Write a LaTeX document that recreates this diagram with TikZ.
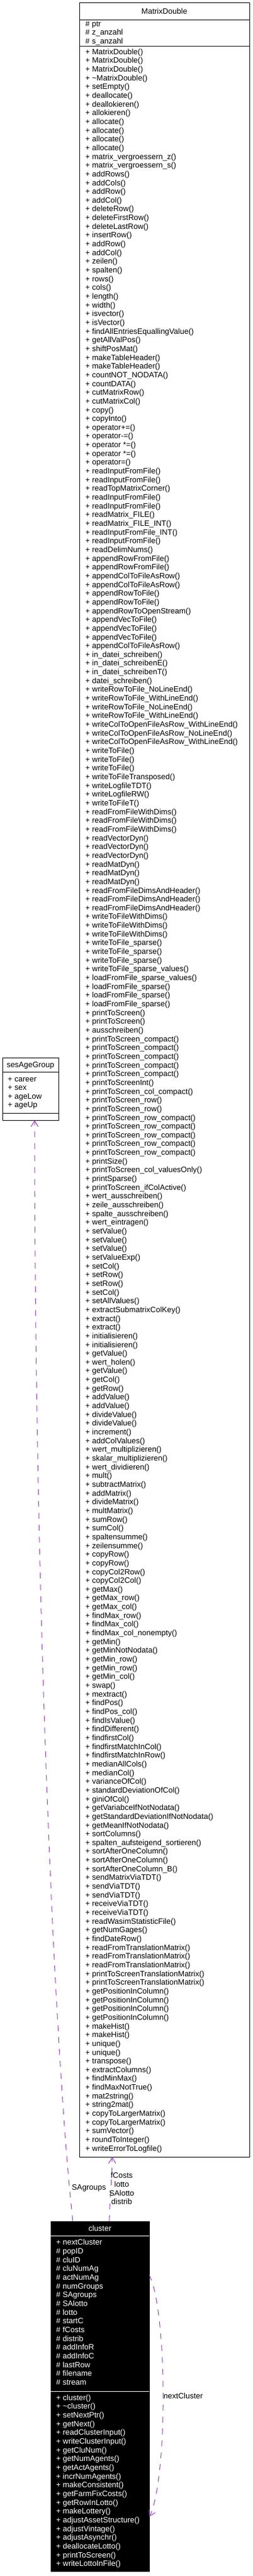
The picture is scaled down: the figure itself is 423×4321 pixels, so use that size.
\documentclass[tikz,border=0pt]{standalone}
\usepackage{fontspec}
\setmainfont{Liberation Sans}
\usetikzlibrary{arrows.meta}
\definecolor{usage-purple}{HTML}{9A32CD}
\newcommand{\memberfont}{\fontsize{13}{14.66}\selectfont}
\def\linestep{14.654}
\tikzstyle{classbox}=[draw=black,line width=1pt,anchor=north west,inner sep=0pt,outer sep=0pt]
\tikzstyle{classname}=[anchor=base,inner sep=0pt,font=\memberfont]
\tikzstyle{member}=[anchor=base west,inner sep=0pt,font=\memberfont]
\tikzstyle{usage}=[usage-purple,line width=1pt,dash pattern=on 10pt off 10pt,-{Straight Barb[length=10pt,width=12pt]}]
\tikzstyle{edgelabel}=[inner sep=0pt,align=center,font=\memberfont]
\newcommand{\attrlist}[5][black]{% [colour] {name} {x} {first baseline} {entries}
  \foreach \a [count=\i] in {#5} {
    \node[member,#1] (#2-\i) at (#3,{#4+(\i-1)*\linestep}) {\a};
  }
}
\newcommand{\methodlist}[5][black]{% same, but adds "+ " and "()"
  \foreach \a [count=\i] in {#5} {
    \node[member,#1] (#2-\i) at (#3,{#4+(\i-1)*\linestep}) {+ \a()};
  }
}
\begin{document}
\begin{tikzpicture}[x=1pt,y=-1pt]
\useasboundingbox (0,0) rectangle (423,4321);
% MatrixDouble
\begin{scope}
	\node[classbox,minimum width=285pt,minimum height=3614pt] (matrixdouble) at (133,4) {};
	\draw[line width=1pt] (matrixdouble.west |- 0,33) -- (matrixdouble.east |- 0,33);
	\draw[line width=1pt] (matrixdouble.west |- 0,77) -- (matrixdouble.east |- 0,77);
	\node[classname] (matrixdouble-title) at (275.5,23) {MatrixDouble};
	\attrlist{md-a}{143}{44}{\# ptr,\# z\_anzahl,\# s\_anzahl}
	\methodlist{md-m}{143}{91.2}{MatrixDouble,MatrixDouble,MatrixDouble,\textasciitilde MatrixDouble,setEmpty,deallocate,deallokieren,allokieren,allocate,allocate,allocate,allocate,matrix\_vergroessern\_z,matrix\_vergroessern\_s,addRows,addCols,addRow,addCol,deleteRow,deleteFirstRow,deleteLastRow,insertRow,addRow,addCol,zeilen,spalten,rows,cols,length,width,isvector,isVector,findAllEntriesEquallingValue,getAllValPos,shiftPosMat,
	makeTableHeader,makeTableHeader,countNOT\_NODATA,countDATA,cutMatrixRow,cutMatrixCol,copy,copyInto,operator+=,operator-=,operator *=,operator *=,operator=,readInputFromFile,readInputFromFile,readTopMatrixCorner,readInputFromFile,readInputFromFile,readMatrix\_FILE,readMatrix\_FILE\_INT,readInputFromFile\_INT,readInputFromFile,readDelimNums,appendRowFromFile,appendRowFromFile,appendColToFileAsRow,appendColToFileAsRow,appendRowToFile,appendRowToFile,appendRowToOpenStream,appendVecToFile,appendVecToFile,appendVecToFile,appendColToFileAsRow,in\_datei\_schreiben,in\_datei\_schreibenE,in\_datei\_schreibenT,datei\_schreiben,writeRowToFile\_NoLineEnd,writeRowToFile\_WithLineEnd,
	writeRowToFile\_NoLineEnd,writeRowToFile\_WithLineEnd,writeColToOpenFileAsRow\_WithLineEnd,writeColToOpenFileAsRow\_NoLineEnd,writeColToOpenFileAsRow\_WithLineEnd,writeToFile,writeToFile,writeToFile,writeToFileTransposed,writeLogfileTDT,writeLogfileRW,writeToFileT,readFromFileWithDims,readFromFileWithDims,readFromFileWithDims,readVectorDyn,readVectorDyn,readVectorDyn,readMatDyn,readMatDyn,readMatDyn,readFromFileDimsAndHeader,readFromFileDimsAndHeader,readFromFileDimsAndHeader,writeToFileWithDims,writeToFileWithDims,writeToFileWithDims,writeToFile\_sparse,writeToFile\_sparse,writeToFile\_sparse,writeToFile\_sparse\_values,loadFromFile\_sparse\_values,loadFromFile\_sparse,loadFromFile\_sparse,loadFromFile\_sparse,printToScreen,printToScreen,ausschreiben,
	printToScreen\_compact,printToScreen\_compact,printToScreen\_compact,printToScreen\_compact,printToScreen\_compact,printToScreenInt,printToScreen\_col\_compact,printToScreen\_row,printToScreen\_row,printToScreen\_row\_compact,printToScreen\_row\_compact,printToScreen\_row\_compact,printToScreen\_row\_compact,printToScreen\_row\_compact,printSize,printToScreen\_col\_valuesOnly,printSparse,printToScreen\_ifColActive,wert\_ausschreiben,zeile\_ausschreiben,spalte\_ausschreiben,wert\_eintragen,setValue,setValue,setValue,setValueExp,setCol,setRow,setRow,setCol,setAllValues,extractSubmatrixColKey,extract,extract,initialisieren,initialisieren,getValue,wert\_holen,getValue,getCol,getRow,addValue,addValue,
	divideValue,divideValue,increment,addColValues,wert\_multiplizieren,skalar\_multiplizieren,wert\_dividieren,mult,subtractMatrix,addMatrix,divideMatrix,multMatrix,sumRow,sumCol,spaltensumme,zeilensumme,copyRow,copyRow,copyCol2Row,copyCol2Col,getMax,getMax\_row,getMax\_col,findMax\_row,findMax\_col,findMax\_col\_nonempty,getMin,getMinNotNodata,getMin\_row,getMin\_row,getMin\_col,swap,mextract,findPos,findPos\_col,findIsValue,findDifferent,findfirstCol,findfirstMatchInCol,findfirstMatchInRow,
	medianAllCols,medianCol,varianceOfCol,standardDeviationOfCol,giniOfCol,getVariabceIfNotNodata,getStandardDeviationIfNotNodata,getMeanIfNotNodata,sortColumns,spalten\_aufsteigend\_sortieren,sortAfterOneColumn,sortAfterOneColumn,sortAfterOneColumn\_B,sendMatrixViaTDT,sendViaTDT,sendViaTDT,receiveViaTDT,receiveViaTDT,readWasimStatisticFile,getNumGages,findDateRow,readFromTranslationMatrix,readFromTranslationMatrix,readFromTranslationMatrix,printToScreenTranslationMatrix,printToScreenTranslationMatrix,getPositionInColumn,getPositionInColumn,getPositionInColumn,getPositionInColumn,makeHist,makeHist,unique,unique,transpose,extractColumns,findMinMax,findMaxNotTrue,mat2string,string2mat,copyToLargerMatrix,copyToLargerMatrix,sumVector,roundToInteger,writeErrorToLogfile}
\end{scope}
% sesAgeGroup
\begin{scope}
	\node[classbox,minimum width=94pt,minimum height=105pt] (sesagegroup) at (4,1774) {};
	\draw[line width=1pt] (sesagegroup.west |- 0,1798) -- (sesagegroup.east |- 0,1798);
	\draw[line width=1pt] (sesagegroup.west |- 0,1867) -- (sesagegroup.east |- 0,1867);
	\node[classname] (sesagegroup-title) at (51,1790.5) {sesAgeGroup};
	\attrlist{sag-a}{13}{1814}{+ career,+ sex,+ ageLow,+ ageUp}
\end{scope}
% cluster (the documented class, filled black)
\begin{scope}
	\node[classbox,fill=black,minimum width=165pt,minimum height=587pt] (cluster) at (85,3726) {};
	\draw[white,line width=1pt] (cluster.west |- 0,3750) -- (cluster.east |- 0,3750);
	\draw[white,line width=1pt] (cluster.west |- 0,4011) -- (cluster.east |- 0,4011);
	\node[classname,white] (cluster-title) at (167.5,3742) {cluster};
	\attrlist[white]{cl-a}{94}{3765.8}{+ nextCluster,\# popID,\# cluID,\# cluNumAg,\# actNumAg,\# numGroups,\# SAgroups,\# SAlotto,\# lotto,\# startC,\# fCosts,\# distrib,\# addInfoR,\# addInfoC,\# lastRow,\# filename,\# stream}
	\methodlist[white]{cl-m}{94}{4026.2}{cluster,\textasciitilde cluster,setNextPtr,getNext,readClusterInput,writeClusterInput,getCluNum,getNumAgents,getActAgents,incrNumAgents,makeConsistent,getFarmFixCosts,getRowInLotto,makeLottery,adjustAssetStructure,adjustVintage,adjustAsynchr,deallocateLotto,printToScreen,writeLottoInFile}
\end{scope}
% usage edges
\draw[usage] ([xshift=-45.5pt]cluster.north) .. controls (92,3450) and (58,2700) .. ([xshift=7pt]sesagegroup.south);
\draw[usage] ([xshift=15.5pt]cluster.north) .. controls (184,3690) and (188,3650) .. ([xshift=-87.5pt]matrixdouble.south);
\draw[usage] ([yshift=203.5pt]cluster.east) .. controls (281,3876) and (281,4162) .. ([yshift=-202pt]cluster.east);
% edge labels
\node[edgelabel] (sagroups-label) at (149,3670) {SAgroups};
\node[edgelabel] (fcosts-label) at (204,3671) {fCosts\\lotto\\SAlotto\\distrib};
\node[edgelabel,anchor=west] (nextcluster-label) at (274,4018.5) {nextCluster};
\end{tikzpicture}
\end{document}
